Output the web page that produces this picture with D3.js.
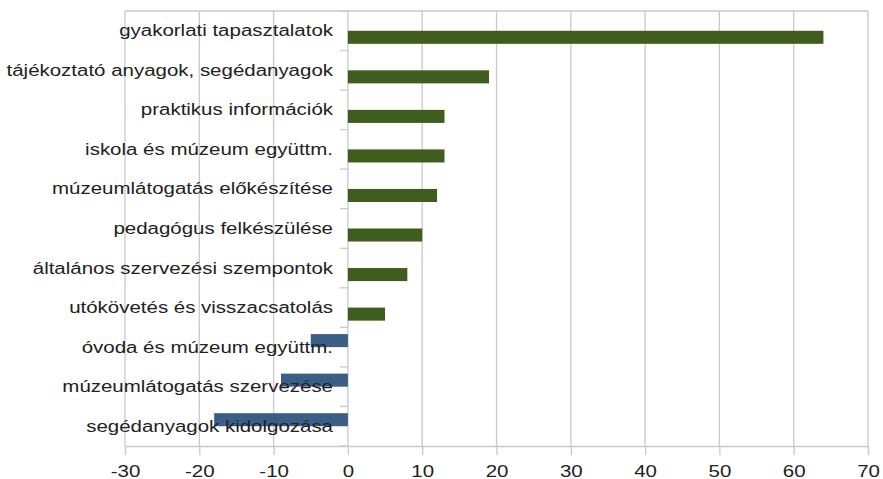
<!DOCTYPE html>
<html><head><meta charset="utf-8">
<script src="https://cdn.jsdelivr.net/npm/d3@7"></script>
<style>body{margin:0;background:#fff;}svg{display:block;}</style>
</head><body>
<svg id="chart" width="883" height="479"></svg>
<script>
const categories = [
  "gyakorlati tapasztalatok",
  "tájékoztató anyagok, segédanyagok",
  "praktikus információk",
  "iskola és múzeum együttm.",
  "múzeumlátogatás előkészítése",
  "pedagógus felkészülése",
  "általános szervezési szempontok",
  "utókövetés és visszacsatolás",
  "óvoda és múzeum együttm.",
  "múzeumlátogatás szervezése",
  "segédanyagok kidolgozása"
];
const positiveValues = [64, 19, 13, 13, 12, 10, 8, 5, null, null, null];
const negativeValues = [null, null, null, null, null, null, null, null, -5, -9, -18];
const xTicks = [-30, -20, -10, 0, 10, 20, 30, 40, 50, 60, 70];
const xTickLabels = ["-30", "-20", "-10", "0", "10", "20", "30", "40", "50", "60", "70"];

(function () {
const svg = d3.select("#chart");
const plotLeft = 125, plotRight = 868, plotTop = 11, plotBottom = 446;
const gridColor = "#c9c9c9";
const textColor = "#222";
const stretch = 1.28;
const fontFamily = "'Liberation Sans', Arial, sans-serif";

const x = d3.scaleLinear().domain([-30, 70]).range([plotLeft, plotRight]);
const y = d3.scaleBand().domain(categories).range([plotTop, plotBottom]).padding(0);
const bh = y.bandwidth() * 0.33;

// grid
svg.append("g").selectAll("line").data(xTicks).join("line")
  .attr("x1", d => x(d)).attr("x2", d => x(d))
  .attr("y1", plotTop).attr("y2", plotBottom)
  .attr("stroke", gridColor).attr("stroke-width", 1.3);
svg.append("line").attr("x1", plotLeft).attr("x2", plotRight).attr("y1", plotTop).attr("y2", plotTop)
  .attr("stroke", gridColor).attr("stroke-width", 1.3);

// bottom axis
const xAxis = svg.append("g").attr("transform", `translate(0,${plotBottom})`)
  .call(d3.axisBottom(x).tickValues(xTicks).tickSize(9).tickPadding(0)
    .tickFormat((d, i) => xTickLabels[i]));
xAxis.select(".domain").attr("stroke", gridColor).attr("stroke-width", 1.3);
xAxis.selectAll(".tick line").attr("stroke", gridColor).attr("stroke-width", 1.3);
xAxis.selectAll(".tick text").remove();
xAxis.selectAll(".tick").append("text")
  .attr("transform", `translate(0,31) scale(${stretch},1)`)
  .attr("text-anchor", "middle")
  .attr("fill", textColor)
  .style("font-family", fontFamily).style("font-size", "16px")
  .text((d, i) => xTickLabels[i]);

// bars
const barData = [];
categories.forEach((c, i) => {
  if (positiveValues[i] != null) barData.push({c, v: positiveValues[i], s: "pos"});
  if (negativeValues[i] != null) barData.push({c, v: negativeValues[i], s: "neg"});
});
svg.append("g").selectAll("rect").data(barData).join("rect")
  .attr("x", d => x(Math.min(0, d.v)))
  .attr("width", d => Math.abs(x(d.v) - x(0)))
  .attr("y", d => y(d.c) + y.bandwidth() / 2 - (d.s === "neg" ? bh : 0))
  .attr("height", bh)
  .attr("fill", d => d.s === "pos" ? "#3f5e1d" : "#3b5e86");

// y axis (at zero) with band boundary ticks
const boundaries = categories.map(c => y(c)).concat([plotBottom]);
svg.append("g").selectAll("line").data(boundaries).join("line")
  .attr("x1", x(0) - 8).attr("x2", x(0))
  .attr("y1", d => d).attr("y2", d => d)
  .attr("stroke", gridColor).attr("stroke-width", 1.3);

// category labels
svg.append("g").selectAll("text").data(categories).join("text")
  .attr("transform", d => `translate(333,${y(d) + y.bandwidth() / 2 + 5.5}) scale(${stretch},1)`)
  .attr("text-anchor", "end")
  .attr("fill", textColor)
  .style("font-family", fontFamily).style("font-size", "16px")
  .text(d => d);
})();
</script>
</body></html>
